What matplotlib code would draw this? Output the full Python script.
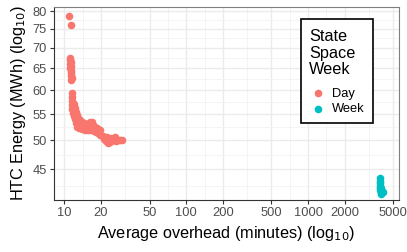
import matplotlib
matplotlib.use("Agg")
import matplotlib.pyplot as plt
from matplotlib.ticker import FixedLocator, FixedFormatter, NullFormatter
from matplotlib.patches import Rectangle
import numpy as np

plt.rcParams['font.family'] = ['Liberation Sans', 'DejaVu Sans']

# Data
day_x = [10.99, 11.28,
         11.2, 11.1, 11.3, 11.2, 11.3, 11.2, 11.4, 11.3, 11.4, 11.4, 11.5, 11.4,
         11.46, 11.46, 11.56, 11.56, 11.67, 11.78, 12.01, 12.24, 12.47, 12.59,
         12.01, 12.24, 12.47, 12.71, 12.95, 13.45, 13.97, 14.50, 15.06, 15.64, 16.24, 16.87,
         13.20, 13.97, 14.78, 15.64, 16.55, 17.52, 18.19, 18.89, 19.61, 20.76,
         17.52, 18.54, 19.61,
         21.15, 21.97, 22.81, 23.69, 24.60, 25.55, 26.53, 27.56, 28.62, 29.72,
         22.39, 24.14, 26.04]
day_y = [78.6, 76.0,
         67.4, 66.9, 66.5, 66.0, 65.5, 65.0, 64.6, 64.1, 63.6, 63.1, 62.7, 62.3,
         59.4, 58.5, 57.7, 56.9, 56.0, 55.2, 54.6, 54.0, 53.2, 52.5,
         57.0, 56.2, 55.4, 54.8, 54.2, 53.8, 53.5, 53.2, 53.0, 53.0, 53.5, 53.5,
         52.3, 52.1, 51.9, 51.9, 51.9, 51.7, 51.5, 51.3, 51.0, 50.8,
         52.7, 52.3, 51.9,
         50.2, 49.9, 49.5, 49.7, 50.1, 50.1, 49.9, 50.1, 50.1, 50.1,
         50.6, 50.4, 50.6]
week_x = [3880, 3870, 3880, 3890, 3900, 3920, 3950, 3980, 4050, 4100, 4000, 3930]
week_y = [43.6, 43.2, 42.8, 42.4, 42.1, 41.8, 42.0, 41.6, 41.5, 41.4, 41.3, 41.2]

x_breaks = [10, 20, 50, 100, 200, 500, 1000, 2000, 5000]
y_breaks = [45, 50, 55, 60, 65, 70, 75, 80]

day_color = '#F8766D'
week_color = '#00BFC4'

W, H = 407, 252
fig = plt.figure(figsize=(W/100, H/100), dpi=100)
ax = fig.add_axes([54/W, 1-200/H, (399-54)/W, (200-7)/H])

ax.set_xscale('log')
ax.set_yscale('log')
ax.set_xlim(8.23, 5568)
ax.set_ylim(40.25, 81.2)

# minor breaks: geometric midpoints between major breaks
xb = np.log10(x_breaks)
x_minor = list(10 ** ((xb[:-1] + xb[1:]) / 2))
yb = np.log10([40] + y_breaks)
y_minor = list(10 ** ((yb[:-1] + yb[1:]) / 2))

ax.xaxis.set_major_locator(FixedLocator(x_breaks))
ax.xaxis.set_major_formatter(FixedFormatter([str(v) for v in x_breaks]))
ax.xaxis.set_minor_locator(FixedLocator(x_minor))
ax.xaxis.set_minor_formatter(NullFormatter())
ax.yaxis.set_major_locator(FixedLocator(y_breaks))
ax.yaxis.set_major_formatter(FixedFormatter([str(v) for v in y_breaks]))
ax.yaxis.set_minor_locator(FixedLocator(y_minor))
ax.yaxis.set_minor_formatter(NullFormatter())

ax.grid(which='major', color='#EBEBEB', lw=1.0)
ax.grid(which='minor', color='#F2F2F2', lw=0.6)
ax.set_axisbelow(True)

ax.tick_params(which='major', length=3, width=0.8, color='#333333',
               labelcolor='#4D4D4D', labelsize=9.3, pad=2.2)
ax.tick_params(which='minor', length=0)
for k, s in ax.spines.items():
    s.set_linewidth(0.8)
    s.set_color('#333333' if k in ('left', 'bottom') else '#7F7F7F')

ax.scatter(day_x, day_y, s=30, color=day_color, lw=0, label='Day', zorder=3)
ax.scatter(week_x, week_y, s=30, color=week_color, lw=0, label='Week', zorder=3)

ax.set_xlabel('Average overhead (minutes) (log$_{10}$)', fontsize=11.7, labelpad=3.5)
ax.set_ylabel('HTC Energy (MWh) (log$_{10}$)', fontsize=11.7, labelpad=3)

# legend frame
fig.patches.append(Rectangle((301/W, 1-123/H), (373-301)/W, (123-19)/H,
                             transform=fig.transFigure, facecolor='white',
                             edgecolor='black', lw=1.2, zorder=5))
fig.text(309/W, 1-29/H, 'State\nSpace\nWeek', ha='left', va='top',
         fontsize=11.7, linespacing=1.13, multialignment='left', zorder=6)
handles, labels = ax.get_legend_handles_labels()
leg = fig.legend(handles, labels, loc='center left',
                 bbox_to_anchor=(309/W, 1-101.5/H), bbox_transform=fig.transFigure,
                 fontsize=9.3, frameon=False,
                 handletextpad=0.43, handlelength=1.35, borderpad=0.0,
                 borderaxespad=0.0, labelspacing=0.25, markerscale=1.0)
leg.set_zorder(6)

fig.savefig('out.png', dpi=100)
